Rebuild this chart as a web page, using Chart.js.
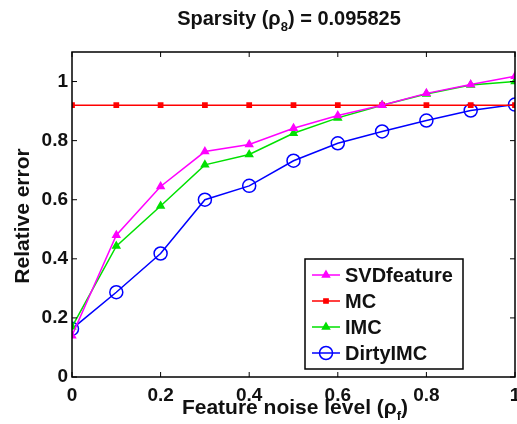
<!DOCTYPE html>
<html>
<head>
<meta charset="utf-8">
<script src="https://cdn.jsdelivr.net/npm/chart.js@4"></script>
<style>
  body { margin: 0; background: #fff; }
  #wrap { width: 517px; height: 424px; }
</style>
</head>
<body>
<div id="wrap"><canvas id="chart" width="517" height="424"></canvas></div>
<script>
// noise levels on the x axis
const noiseLevels = [0, 0.1, 0.2, 0.3, 0.4, 0.5, 0.6, 0.7, 0.8, 0.9, 1.0];

// relative error per method
const svdFeature = [0.14, 0.48, 0.645, 0.763, 0.787, 0.842, 0.885, 0.92, 0.96, 0.99, 1.018];
const mc = [0.92, 0.92, 0.92, 0.92, 0.92, 0.92, 0.92, 0.92, 0.92, 0.92, 0.92];
const imc = [0.17, 0.443, 0.579, 0.718, 0.753, 0.825, 0.877, 0.92, 0.958, 0.988, 1.0];
const dirtyImc = [0.163, 0.287, 0.418, 0.6, 0.647, 0.732, 0.791, 0.831, 0.868, 0.902, 0.922];

const xTicks = [0, 0.2, 0.4, 0.6, 0.8, 1];
const yTicks = [0, 0.2, 0.4, 0.6, 0.8, 1];

const FAMILY = '"Liberation Sans", Arial, sans-serif';
const FONT = 'bold 20px ' + FAMILY;
const SUB = 'bold 13px ' + FAMILY;

function points(ys) {
    return noiseLevels.map((x, i) => ({ x: x, y: ys[i] }));
}

function fmt(v) {
    return String(parseFloat(Number(v).toFixed(2)));
}

// box, inward ticks, title, axis labels and legend in MATLAB style
const matlabStyle = {
    id: 'matlabStyle',
    afterDraw(chart) {
        const ctx = chart.ctx;
        const a = chart.chartArea;
        const xs = chart.scales.x, ys = chart.scales.y;
        ctx.save();
        ctx.strokeStyle = '#000';
        ctx.lineWidth = 1.5;
        ctx.strokeRect(a.left, a.top, a.right - a.left, a.bottom - a.top);
        ctx.lineWidth = 1;
        ctx.beginPath();
        xTicks.forEach(v => {
            const px = xs.getPixelForValue(v);
            ctx.moveTo(px, a.bottom); ctx.lineTo(px, a.bottom - 5);
            ctx.moveTo(px, a.top); ctx.lineTo(px, a.top + 5);
        });
        yTicks.forEach(v => {
            const py = ys.getPixelForValue(v);
            ctx.moveTo(a.left, py); ctx.lineTo(a.left + 5, py);
            ctx.moveTo(a.right, py); ctx.lineTo(a.right - 5, py);
        });
        ctx.stroke();

        // text with subscript
        ctx.fillStyle = '#111';
        ctx.textBaseline = 'alphabetic';
        ctx.textAlign = 'left';
        const drawSub = (parts, cx, y, font) => {
            let w = 0;
            parts.forEach(p => { ctx.font = p.sub ? SUB : font; w += ctx.measureText(p.t).width; });
            let x = cx - w / 2;
            parts.forEach(p => {
                ctx.font = p.sub ? SUB : font;
                ctx.fillText(p.t, x, y + (p.sub ? 6 : 0));
                x += ctx.measureText(p.t).width;
            });
        };
        drawSub([{ t: 'Sparsity (ρ' }, { t: '8', sub: true }, { t: ') = 0.095825' }], 289, 25, FONT);
        drawSub([{ t: 'Feature noise level (ρ' }, { t: 'f', sub: true }, { t: ')' }], 295, 414, 'bold 21px ' + FAMILY);

        // y axis label
        ctx.save();
        ctx.translate(29, 216);
        ctx.rotate(-Math.PI / 2);
        ctx.textAlign = 'center';
        ctx.font = 'bold 21px ' + FAMILY;
        ctx.fillText('Relative error', 0, 0);
        ctx.restore();

        // legend
        const lx = 305, ly = 259, lw = 158, lh = 110;
        ctx.fillStyle = '#fff';
        ctx.fillRect(lx, ly, lw, lh);
        ctx.strokeStyle = '#000';
        ctx.lineWidth = 1.5;
        ctx.strokeRect(lx, ly, lw, lh);
        const rows = [275, 301, 327, 353];
        chart.data.datasets.forEach((ds, i) => {
            const y = rows[i];
            ctx.strokeStyle = ds.borderColor;
            ctx.lineWidth = ds.borderWidth;
            ctx.beginPath();
            ctx.moveTo(312, y); ctx.lineTo(340, y);
            ctx.stroke();
            ctx.fillStyle = ds.pointBackgroundColor;
            ctx.strokeStyle = ds.pointBorderColor;
            Chart.helpers.drawPoint(ctx, {
                pointStyle: ds.pointStyle,
                radius: ds.pointRadius,
                borderWidth: ds.borderWidth
            }, 326, y);
            ctx.fillStyle = '#111';
            ctx.font = FONT;
            ctx.textBaseline = 'middle';
            ctx.fillText(ds.label, 345, y + 1);
        });
        ctx.restore();
    }
};

const tickFont = { size: 19, weight: 'bold', family: FAMILY };

const ctx = document.getElementById('chart').getContext('2d');
new Chart(ctx, {
    type: 'line',
    data: {
        datasets: [{
            label: 'SVDfeature',
            data: points(svdFeature),
            borderColor: '#ff00ff',
            backgroundColor: '#ff00ff',
            pointBackgroundColor: '#ff00ff',
            pointBorderColor: '#ff00ff',
            pointStyle: 'triangle',
            pointRadius: 4,
            borderWidth: 1.5
        }, {
            label: 'MC',
            data: points(mc),
            borderColor: '#ff0000',
            backgroundColor: '#ff0000',
            pointBackgroundColor: '#ff0000',
            pointBorderColor: '#ff0000',
            pointStyle: 'rect',
            pointRadius: 3,
            borderWidth: 1.5
        }, {
            label: 'IMC',
            data: points(imc),
            borderColor: '#00e000',
            backgroundColor: '#00e000',
            pointBackgroundColor: '#00e000',
            pointBorderColor: '#00e000',
            pointStyle: 'triangle',
            pointRadius: 4,
            borderWidth: 1.5
        }, {
            label: 'DirtyIMC',
            data: points(dirtyImc),
            borderColor: '#0000ff',
            backgroundColor: 'transparent',
            pointBackgroundColor: 'transparent',
            pointBorderColor: '#0000ff',
            pointStyle: 'circle',
            pointRadius: 6.5,
            borderWidth: 1.5
        }]
    },
    options: {
        responsive: false,
        animation: false,
        layout: { autoPadding: false, padding: { top: 52, right: 2, left: 0, bottom: 0 } },
        plugins: { legend: { display: false }, title: { display: false }, tooltip: { enabled: false } },
        scales: {
            x: {
                type: 'linear',
                min: 0, max: 1,
                grid: { display: false, drawTicks: false },
                border: { display: false },
                afterFit: s => { s.height = 47; s.paddingLeft = 0; s.paddingRight = 0; },
                afterBuildTicks: s => { s.ticks = xTicks.map(v => ({ value: v })); },
                ticks: { color: '#111', font: tickFont, padding: 7, maxRotation: 0, autoSkip: false, callback: fmt }
            },
            y: {
                min: 0, max: 1.1,
                grid: { display: false, drawTicks: false },
                border: { display: false },
                afterFit: s => { s.width = 72; s.paddingTop = 0; s.paddingBottom = 0; },
                afterBuildTicks: s => { s.ticks = yTicks.map(v => ({ value: v })); },
                ticks: { color: '#111', font: tickFont, padding: 4, callback: fmt }
            }
        }
    },
    plugins: [matlabStyle]
});
</script>
</body>
</html>
